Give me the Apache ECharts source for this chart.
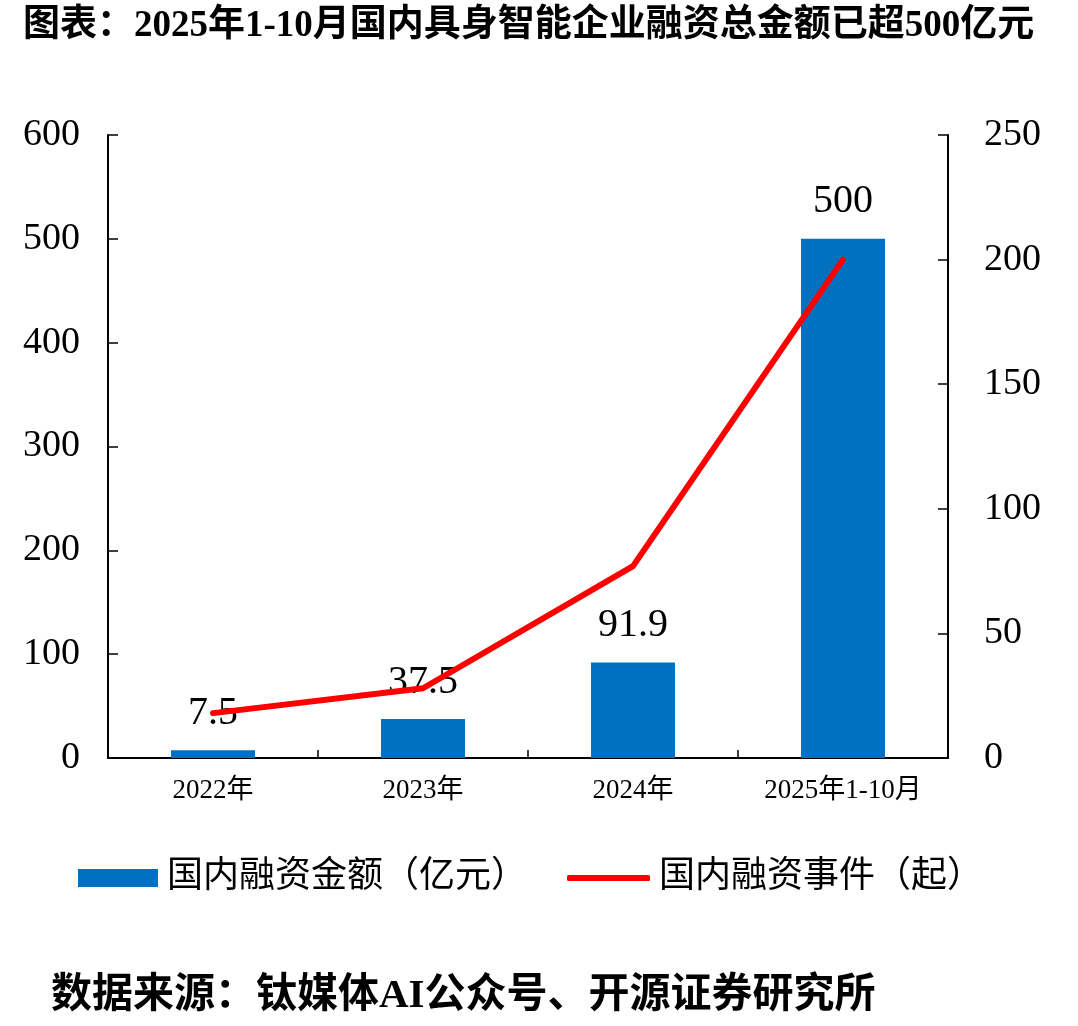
<!DOCTYPE html>
<html>
<head>
<meta charset="utf-8">
<script src="https://cdn.jsdelivr.net/npm/echarts@6/dist/echarts.min.js"></script>
<style>
html,body{margin:0;padding:0;background:#fff;}
#c{width:1078px;height:1026px;}
</style>
</head>
<body>
<div id="c"></div>
<script>
const categories = ['2022年', '2023年', '2024年', '2025年1-10月'];
const amountValues = [7.5, 37.5, 91.9, 500];
const eventValues = [18, 28, 77, 200];
const leftTicks = { min: 0, max: 600, interval: 100 };
const rightTicks = { min: 0, max: 250, interval: 50 };
const seriesNames = ['国内融资金额（亿元）', '国内融资事件（起）'];
const titleText = '图表：2025年1-10月国内具身智能企业融资总金额已超500亿元';
const sourceText = '数据来源：钛媒体AI公众号、开源证券研究所';

const serif = '"Liberation Serif", "Times New Roman", "Noto Sans CJK SC", serif';
const chart = echarts.init(document.getElementById('c'), null, { renderer: 'canvas' });
chart.setOption({
  backgroundColor: '#fff',
  animation: false,
  title: [
    { text: titleText, left: 18, top: 3,
      textStyle: { fontFamily: serif, fontWeight: 'bold', fontSize: 37, color: '#000' } },
    { text: sourceText, left: 46, top: 971,
      textStyle: { fontFamily: serif, fontWeight: 'bold', fontSize: 41, color: '#000' } }
  ],
  legend: [
    { left: 73, top: 855, itemGap: 0, itemWidth: 80, itemHeight: 18,
      textStyle: { fontFamily: serif, fontSize: 36, color: '#000', padding: [0, 0, 0, 4] },
      data: [{ name: seriesNames[0], icon: 'rect' }] },
    { left: 562, top: 855, itemGap: 0, itemWidth: 83, itemHeight: 6,
      textStyle: { fontFamily: serif, fontSize: 36, color: '#000', padding: [0, 0, 0, 4] },
      data: [{ name: seriesNames[1], icon: 'roundRect', itemStyle: { color: '#FF0000' } }] }
  ],
  grid: { left: 108, right: 130, top: 135, bottom: 268, containLabel: false },
  xAxis: {
    type: 'category', data: categories,
    axisLine: { lineStyle: { color: '#000', width: 2 } },
    axisTick: { show: true, inside: true, length: 8, alignWithLabel: false, lineStyle: { color: '#000', width: 1.5 } },
    axisLabel: { fontFamily: serif, fontSize: 27, color: '#000', margin: 19 }
  },
  yAxis: [
    { type: 'value', min: leftTicks.min, max: leftTicks.max, interval: leftTicks.interval,
      splitLine: { show: false },
      axisLine: { show: true, lineStyle: { color: '#000', width: 2 } },
      axisTick: { show: true, inside: true, length: 10, lineStyle: { color: '#000', width: 1.5 } },
      axisLabel: { fontFamily: serif, fontSize: 38, color: '#000', margin: 28 } },
    { type: 'value', min: rightTicks.min, max: rightTicks.max, interval: rightTicks.interval,
      splitLine: { show: false },
      axisLine: { show: true, lineStyle: { color: '#000', width: 2 } },
      axisTick: { show: true, inside: true, length: 10, lineStyle: { color: '#000', width: 1.5 } },
      axisLabel: { fontFamily: serif, fontSize: 38, color: '#000', margin: 36 } }
  ],
  series: [
    { name: seriesNames[0], type: 'bar', data: amountValues, yAxisIndex: 0,
      barWidth: '40%', itemStyle: { color: '#0070C0' },
      label: { show: true, position: 'top', distance: 17, fontFamily: serif, fontSize: 40, color: '#000' } },
    { name: seriesNames[1], type: 'line', data: eventValues, yAxisIndex: 1,
      symbol: 'none', lineStyle: { color: '#FF0000', width: 6, cap: 'round', join: 'round' },
      itemStyle: { color: '#FF0000' }, z: 3 }
  ]
});
</script>
</body>
</html>
